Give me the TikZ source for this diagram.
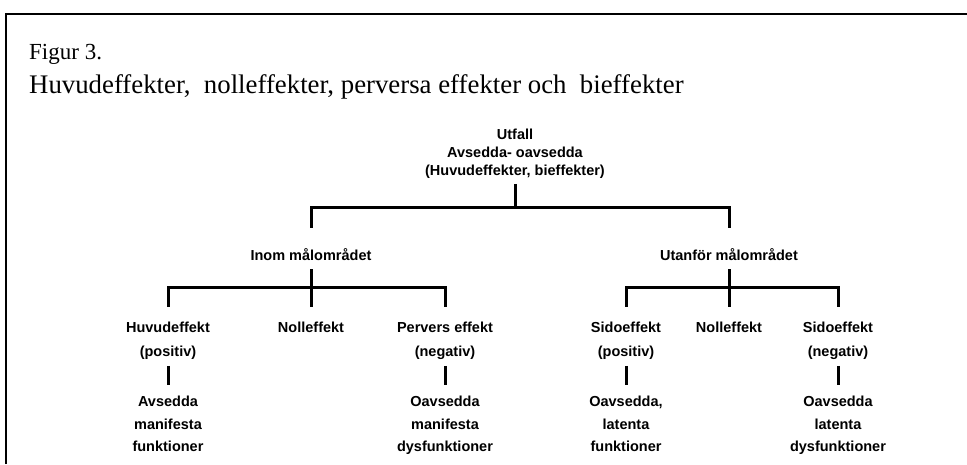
\documentclass[tikz,border=0pt]{standalone}
\usepackage{fontspec}
\setmainfont{Liberation Serif}
\newfontfamily\lblfont{Liberation Sans}
\begin{document}
\begin{tikzpicture}[x=1pt,y=-1pt,
  conn/.style={line width=3pt, line join=miter},
  lbl/.style={font=\lblfont\bfseries\fontsize{14.5}{18}\selectfont, align=center, inner sep=0pt, anchor=north},
  lbltwo/.style={lbl, font=\lblfont\bfseries\fontsize{14.5}{24}\selectfont},
  lblthree/.style={lbl, font=\lblfont\bfseries\fontsize{14.5}{22.5}\selectfont},
  caption/.style={anchor=base west, inner sep=0pt}]
\useasboundingbox (0,0) rectangle (967,464);
\fill[white] (0,0) rectangle (967,464);
% frame
\draw[line width=2pt] (6,464) -- (6,14) -- (967,14);
% captions
\node[caption, font=\fontsize{23}{27}\selectfont] (fig) at (29,59) {Figur 3.};
\node[caption, font=\fontsize{26.8}{32}\selectfont] (title) at (29,93) {Huvudeffekter,\ \ nolleffekter, perversa effekter och\ \ bieffekter};
% tree nodes
\node[lbl] (top) at (515,129) {Utfall\\Avsedda- oavsedda\\(Huvudeffekter, bieffekter)};
\node[lbl] (lm) at (311,248) {Inom målområdet};
\node[lbl] (rm) at (729,248) {Utanför målområdet};
\node[lbltwo] (h1) at (168,322) {Huvudeffekt\\(positiv)};
\node[lbltwo] (n1) at (311,322) {Nolleffekt};
\node[lbltwo] (p1) at (445,322) {Pervers effekt\\(negativ)};
\node[lbltwo] (s1) at (626,322) {Sidoeffekt\\(positiv)};
\node[lbltwo] (n2) at (729,322) {Nolleffekt};
\node[lbltwo] (s2) at (838,322) {Sidoeffekt\\(negativ)};
\node[lblthree] (f1) at (168,396) {Avsedda\\manifesta\\funktioner};
\node[lblthree] (f2) at (445,396) {Oavsedda\\manifesta\\dysfunktioner};
\node[lblthree] (f3) at (626,396) {Oavsedda,\\latenta\\funktioner};
\node[lblthree] (f4) at (838,396) {Oavsedda\\latenta\\dysfunktioner};
% junctions
\coordinate (j0) at (515,207);
\coordinate (j1) at (311,287);
\coordinate (j2) at (729,287);
% connectors
\draw[conn, shorten <=5pt] (top.south) -- (j0);
\draw[conn, shorten >=20pt] (j0) -| (lm.north);
\draw[conn, shorten >=20pt] (j0) -| (rm.north);
\draw[conn, shorten <=9pt] (lm.south) -- (j1);
\draw[conn, shorten <=9pt] (rm.south) -- (j2);
\draw[conn, shorten >=15pt] (j1) -| (h1.north);
\draw[conn, shorten >=15pt] (j1) -- (n1.north);
\draw[conn, shorten >=15pt] (j1) -| (p1.north);
\draw[conn, shorten >=15pt] (j2) -| (s1.north);
\draw[conn, shorten >=15pt] (j2) -- (n2.north);
\draw[conn, shorten >=15pt] (j2) -| (s2.north);
\draw[conn, shorten <=6pt, shorten >=11pt] (h1.south) -- (f1.north);
\draw[conn, shorten <=6pt, shorten >=11pt] (p1.south) -- (f2.north);
\draw[conn, shorten <=6pt, shorten >=11pt] (s1.south) -- (f3.north);
\draw[conn, shorten <=6pt, shorten >=11pt] (s2.south) -- (f4.north);
\end{tikzpicture}
\end{document}
